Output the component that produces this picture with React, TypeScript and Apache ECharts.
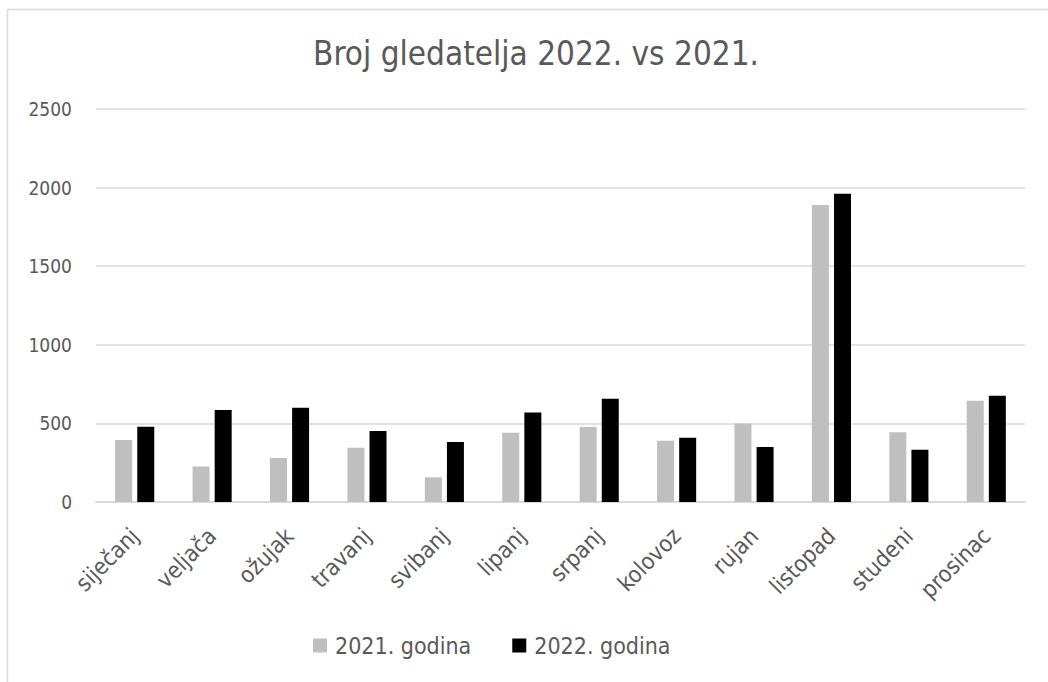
import React, { useEffect, useRef } from "react";
import * as echarts from "echarts";

const months = ["siječanj", "veljača", "ožujak", "travanj", "svibanj", "lipanj", "srpanj", "kolovoz", "rujan", "listopad", "studeni", "prosinac"];
const values2021 = [395, 226, 280, 345, 157, 440, 477, 390, 500, 1889, 443, 644];
const values2022 = [478, 585, 600, 451, 381, 570, 657, 409, 350, 1961, 333, 676];
const seriesNames = ["2021. godina", "2022. godina"];
const titleText = "Broj gledatelja 2022. vs 2021.";

const FONT = "'Liberation Sans Narrow', 'DejaVu Sans Condensed', 'Open Sans', sans-serif";

export default function App() {
  const ref = useRef<HTMLDivElement>(null);
  useEffect(() => {
    if (!ref.current) return;
    const chart = echarts.init(ref.current, undefined, { renderer: "svg" });
    chart.setOption({
      animation: false,
      backgroundColor: "#ffffff",
      textStyle: { fontFamily: FONT },
      graphic: [
        {
          type: "rect",
          shape: { x: 7.5, y: 9.5, width: 1100, height: 700 },
          style: { fill: "none", stroke: "#d9d9d9", lineWidth: 1.5 },
          silent: true,
        },
      ],
      title: {
        text: titleText,
        left: 531,
        textAlign: "center",
        top: 32,
        textStyle: { fontFamily: FONT, fontSize: 33, fontWeight: "normal", color: "#595959" },
      },
      legend: {
        top: 634,
        left: 313,
        padding: 0,
        itemWidth: 14,
        itemHeight: 14,
        itemGap: 41,
        icon: "rect",
        textStyle: { fontFamily: FONT, fontSize: 23, color: "#595959", padding: [0, 0, 0, 3] },
        data: seriesNames,
      },
      grid: { left: 96, right: 23, top: 109, bottom: 180, containLabel: false },
      xAxis: {
        type: "category",
        data: months,
        axisLine: { lineStyle: { color: "#d9d9d9", width: 2 } },
        axisTick: { show: false },
        axisLabel: { rotate: 45, fontSize: 23, color: "#595959", margin: 30, fontFamily: FONT },
      },
      yAxis: {
        type: "value",
        min: 0,
        max: 2500,
        interval: 500,
        axisLine: { show: false },
        axisTick: { show: false },
        splitLine: { lineStyle: { color: "#d9d9d9", width: 1.5 } },
        axisLabel: {
          fontSize: 19,
          color: "#595959",
          margin: 24,
          fontFamily: FONT,
          formatter: (v: number) => String(v),
        },
      },
      series: [
        {
          name: seriesNames[0],
          type: "bar",
          data: values2021,
          barWidth: 17,
          barGap: "30%",
          itemStyle: { color: "#bfbfbf" },
        },
        {
          name: seriesNames[1],
          type: "bar",
          data: values2022,
          barWidth: 17,
          barGap: "30%",
          itemStyle: { color: "#000000" },
        },
      ],
    });
    return () => chart.dispose();
  }, []);
  return <div ref={ref} style={{ position: "absolute", left: 0, top: 0, width: 1048, height: 682 }} />;
}
